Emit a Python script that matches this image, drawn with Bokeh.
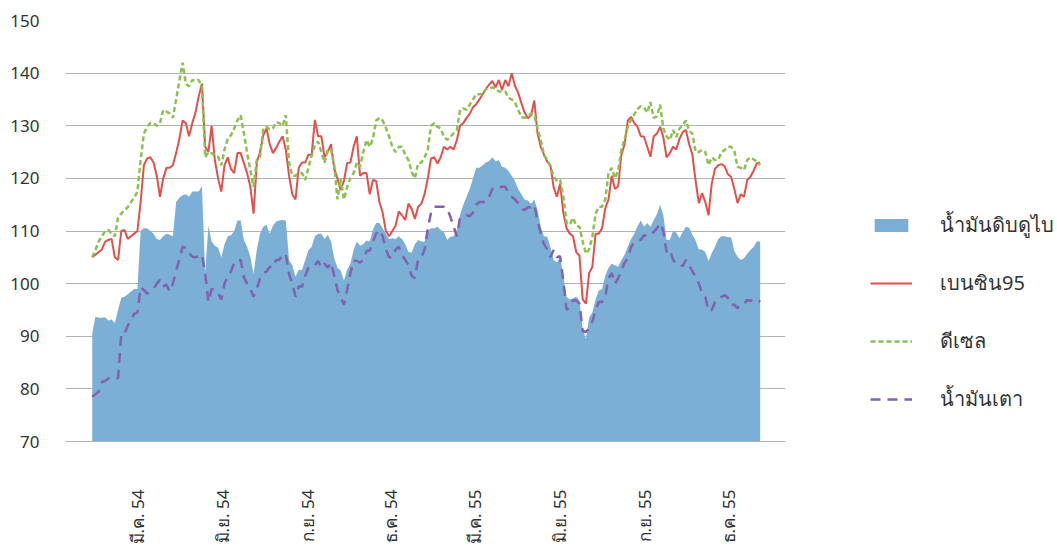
import math
import pandas as pd
from bokeh.plotting import figure
from bokeh.layouts import row
from bokeh.models import Range1d, FixedTicker, Legend, LegendItem
from bokeh.embed import file_html
from bokeh.resources import INLINE

# ---------------- data (twice-weekly readings, Jan 2011 - Dec 2012) ----------------
start_date = "2011-01-11"
step = "84h"   # 3.5 days between readings

dubai = [90.5, 93.7, 93.5, 93.5, 93.6, 93.0, 93.2, 92.5, 95.0, 97.3, 97.5, 98.0, 98.5, 99.0, 99.0, 110.0,
         110.5, 110.5, 110.0, 109.5, 108.5, 108.3, 109.0, 109.5, 109.3, 109.0, 115.5, 116.3, 116.8, 117.0, 116.5, 117.5,
         117.5, 117.5, 118.5, 102.0, 111.0, 108.0, 107.2, 106.8, 105.0, 107.5, 109.0, 109.2, 110.0, 112.0, 112.0, 108.3,
         107.0, 105.1, 101.9, 106.4, 109.5, 110.8, 111.2, 109.5, 111.0, 111.8, 112.0, 112.1, 112.0, 104.5, 103.5, 101.3,
         102.6, 102.6, 104.5, 106.3,
         107.0, 109.0, 109.5, 109.5, 108.5, 109.3, 108.0, 104.8, 103.0, 102.5, 100.6, 102.6, 103.8, 106.4, 108.0, 107.2,
         107.5, 108.2, 108.0, 110.3, 111.5, 111.5, 110.5, 109.5, 108.5, 108.6, 108.5, 109.0, 108.5, 107.5, 106.0, 105.9,
         107.5, 108.3, 108.0, 108.0, 110.0, 110.5,
         110.5, 110.8, 110.2, 109.8, 108.3, 108.9, 109.0, 110.2, 113.0, 115.0, 116.5, 118.0, 120.0, 122.0, 122.0, 122.5,
         123.0, 123.3, 124.0, 123.2, 123.5, 122.2, 122.0, 121.4, 120.5, 119.5, 118.0, 117.0, 116.0, 115.8, 115.2, 116.0,
         114.0, 110.8, 109.0, 108.9,
         107.0, 104.5, 104.0, 105.1, 101.5, 97.5, 97.0, 97.2, 97.5, 96.8, 91.5, 89.5, 93.5, 94.5, 97.0, 98.7,
         99.0, 101.5, 103.0, 103.8, 103.5, 103.2, 104.5, 105.5, 107.0, 108.5, 109.5, 110.9, 112.0, 110.8, 111.5, 110.8,
         112.0, 113.2, 115.0, 113.0, 108.3, 108.3,
         110.0, 109.7, 108.6, 109.8, 110.8, 110.6, 109.3, 108.2, 106.5, 106.5, 106.0, 104.3, 105.8, 107.0, 108.5, 109.0,
         109.0, 108.8, 108.8, 106.2, 105.1, 104.5, 104.8, 105.7, 106.4, 107.0, 108.0, 108.0]

benzin95 = [105.0, 105.5, 106.0, 106.5, 108.0, 108.3, 108.5, 105.0, 104.5, 110.0, 110.2, 108.5, 109.0, 109.5, 110.0, 115.5,
            122.5, 123.8, 124.0, 123.0, 120.5, 116.5, 120.0, 122.0, 122.0, 122.5, 124.8, 127.5, 131.0, 130.5, 128.0, 130.5,
            132.5, 135.6, 138.0, 126.0, 125.0, 130.0, 123.5, 120.0, 117.5, 122.5, 124.0, 121.8, 121.0, 124.8, 124.8, 122.9,
            121.0, 118.4, 113.3, 123.0, 125.0, 128.2, 129.5, 126.5, 124.8, 125.8, 127.0, 128.0, 125.4, 120.5, 117.0, 116.0,
            122.0, 123.0, 123.0, 124.5,
            124.5, 131.1, 128.0, 128.0, 124.0, 125.0, 126.5, 121.8, 120.0, 117.8, 119.5, 122.9, 123.0, 126.0, 128.0, 120.5,
            121.0, 121.0, 117.0, 119.7, 119.5, 115.5, 113.5, 110.0, 109.0, 110.0, 111.0, 113.7, 113.0, 112.1, 115.2, 114.2,
            112.3, 114.6, 115.2, 117.0, 120.0, 123.8,
            124.0, 122.8, 124.0, 126.0, 125.5, 126.0, 125.5, 127.3, 130.0, 130.5, 131.5, 132.3, 133.5, 134.1, 135.0, 136.0,
            137.0, 137.8, 138.5, 137.3, 138.7, 136.8, 138.7, 137.5, 140.0, 137.6, 136.3, 134.3, 132.5, 131.4, 132.0, 134.8,
            128.6, 126.0, 124.5, 123.2,
            122.5, 118.3, 116.5, 119.0, 113.5, 110.5, 109.5, 109.0, 106.0, 105.3, 97.0, 96.2, 102.0, 103.2, 109.5, 109.5,
            110.5, 114.3, 116.0, 120.5, 118.0, 118.5, 124.5, 126.5, 131.0, 131.7, 130.5, 129.8, 128.0, 127.9, 126.0, 124.1,
            128.0, 128.5, 129.8, 127.8, 124.0, 124.8,
            126.0, 125.5, 127.5, 128.8, 129.2, 126.5, 124.5, 119.5, 115.3, 117.2, 115.5, 113.0, 119.0, 121.8, 122.5, 122.7,
            122.3, 120.8, 120.3, 118.0, 115.3, 117.0, 116.5, 119.7, 120.3, 121.5, 122.9, 123.0]

diesel = [105.0, 106.4, 108.0, 109.0, 110.0, 110.2, 109.5, 109.0, 112.5, 113.3, 114.0, 114.5, 115.5, 116.3, 117.5, 123.5,
          128.5, 129.8, 130.5, 130.5, 130.0, 130.5, 133.0, 132.7, 132.3, 131.5, 135.0, 138.5, 142.0, 138.0, 137.5, 138.7,
          138.5, 138.7, 137.5, 124.0, 125.0, 124.8, 124.3, 124.1, 122.5, 125.5, 127.5, 128.2, 129.5, 131.0, 132.0, 128.6,
          124.8, 121.6, 118.4, 123.5, 124.0, 129.5, 129.8, 129.3, 129.5, 130.7, 130.5, 130.0, 132.0, 123.0, 120.5, 120.5,
          121.0, 121.0, 119.7, 122.0,
          124.3, 126.3, 127.0, 125.0, 123.0, 125.5, 125.5, 122.5, 116.0, 120.0, 116.0, 118.4, 120.0, 121.0, 123.0, 122.2,
          125.0, 127.3, 126.0, 127.5, 131.0, 131.5, 131.0, 129.6, 128.0, 126.0, 125.0, 126.0, 126.0, 124.5, 123.5, 121.2,
          120.0, 122.9, 123.0, 124.0, 125.5, 130.0,
          130.5, 129.8, 129.5, 127.9, 127.3, 127.9, 128.6, 129.2, 133.0, 133.3, 133.0, 134.0, 135.0, 136.0, 136.0, 136.0,
          137.0, 137.0, 137.3, 137.1, 136.5, 136.5, 136.5, 135.3, 135.0, 134.5, 133.0, 131.6, 131.5, 131.8, 132.3, 132.0,
          129.5, 127.3, 124.5, 123.5,
          122.2, 120.4, 119.5, 119.7, 116.5, 111.6, 111.2, 112.5, 111.0, 110.8, 108.0, 105.7, 106.5, 108.9, 113.3, 114.6,
          114.6, 116.0, 121.0, 122.0, 120.0, 121.5, 125.5, 127.5, 129.8, 131.2, 132.2, 133.2, 133.7, 133.5, 132.5, 134.5,
          131.5, 131.8, 134.0, 129.5, 128.0, 127.3,
          129.2, 127.8, 129.5, 130.0, 131.0, 129.0, 128.5, 125.0, 125.0, 125.4, 125.0, 122.5, 124.0, 123.5, 123.5, 125.0,
          125.4, 126.0, 126.0, 125.2, 122.2, 122.0, 121.6, 123.5, 124.0, 123.6, 123.2, 122.5]

kerosene = [78.5, 79.0, 79.5, 81.3, 81.5, 82.0, 82.0, 82.0, 82.0, 90.5, 90.5, 92.0, 93.0, 94.3, 94.5, 99.3,
            98.8, 98.1, 98.5, 99.0, 100.0, 100.7, 99.5, 99.8, 98.5, 100.0, 102.5, 104.5, 107.0, 106.8, 105.8, 105.1,
            105.0, 105.3, 105.5, 102.0, 96.5, 99.0, 98.8, 98.2, 97.0, 100.0, 101.5, 102.3, 104.0, 104.5, 104.5, 101.2,
            100.0, 99.0, 97.5, 99.0, 101.0, 102.0, 102.3, 103.2, 103.0, 104.5, 104.5, 105.7, 105.5, 101.8, 100.0, 97.5,
            99.5, 99.4, 101.5, 103.0,
            103.0, 103.5, 104.3, 103.0, 103.8, 103.0, 104.0, 101.5, 98.8, 97.4, 96.0, 98.8, 102.0, 104.4, 104.3, 104.0,
            104.5, 106.2, 106.3, 108.0, 109.5, 110.2, 109.0, 106.5, 105.0, 105.0, 106.5, 107.0, 105.5, 104.5, 103.5, 101.5,
            101.0, 104.7, 105.0, 106.5, 110.5, 113.5,
            114.6, 114.6, 114.6, 114.6, 114.3, 112.7, 110.8, 109.0, 112.5, 113.0, 113.0, 112.8, 113.5, 115.0, 115.5, 115.5,
            115.5, 116.5, 118.0, 118.4, 118.2, 118.4, 118.4, 117.3, 116.5, 116.0, 115.3, 114.2, 114.0, 114.5, 114.5, 115.0,
            112.0, 109.5, 107.5, 106.5,
            105.0, 106.4, 105.0, 105.2, 100.5, 95.0, 95.8, 96.8, 96.8, 96.2, 91.0, 90.8, 91.5, 92.8, 95.0, 96.5,
            96.5, 97.5, 101.0, 102.0, 100.0, 101.0, 102.5, 104.0, 104.8, 107.0, 107.8, 108.3, 108.3, 109.2, 109.0, 109.2,
            109.8, 110.5, 111.5, 110.0, 106.0, 106.5,
            104.5, 103.8, 103.8, 103.3, 104.5, 103.5, 102.3, 101.3, 100.0, 98.2, 97.5, 94.8, 95.0, 96.5, 97.0, 97.5,
            97.8, 97.3, 96.0, 96.0, 95.3, 96.2, 96.2, 96.9, 96.7, 97.1, 97.0, 96.5]

tick_dates = ["2011-03-01", "2011-06-01", "2011-09-01", "2011-12-01",
              "2012-03-01", "2012-06-01", "2012-09-01", "2012-12-01"]
tick_labels = ["มี.ค. 54", "มิ.ย. 54", "ก.ย. 54", "ธ.ค. 54",
               "มี.ค. 55", "มิ.ย. 55", "ก.ย. 55", "ธ.ค. 55"]
series_names = ["น้ำมันดิบดูไบ", "เบนซิน95", "ดีเซล", "น้ำมันเตา"]

# ---------------- x as days since first tick ----------------
origin = pd.Timestamp(tick_dates[0])
dates = pd.date_range(start_date, periods=len(dubai), freq=step)
x = [(d - origin) / pd.Timedelta(days=1) for d in dates]
tick_pos = [(pd.Timestamp(t) - origin).days for t in tick_dates]

FONT = "Noto Sans"
TXT = "#333333"
C_AREA, C_B, C_D, C_K = "#7bafd6", "#e0514c", "#8cc152", "#8062ae"


def draw_series(fig):
    a = fig.varea(x=x, y1=70, y2=dubai, fill_color=C_AREA)
    b = fig.line(x, benzin95, line_color=C_B, line_width=2)
    d = fig.line(x, diesel, line_color=C_D, line_width=2.5, line_dash="5 3")
    k = fig.line(x, kerosene, line_color=C_K, line_width=2.5, line_dash="10 7")
    return a, b, d, k


# ---------------- main chart ----------------
p = figure(width=800, height=548, output_backend="svg", toolbar_location=None,
           x_range=Range1d(-78, 703), y_range=Range1d(70, 150),
           min_border_left=65, min_border_right=15, min_border_top=20, min_border_bottom=107)
p.outline_line_color = None
draw_series(p)

p.xgrid.visible = False
p.ygrid.grid_line_color = "#b3b3b3"
p.ygrid.grid_line_width = 1
p.yaxis.ticker = FixedTicker(ticks=list(range(70, 151, 10)))
p.xaxis.ticker = FixedTicker(ticks=tick_pos)
p.xaxis.major_label_overrides = {t: l for t, l in zip(tick_pos, tick_labels)}
p.xaxis.major_label_orientation = math.pi / 2
p.xaxis.major_label_standoff = 42
p.xaxis.axis_line_color = "#b3b3b3"
for ax in (p.xaxis, p.yaxis):
    ax.major_tick_line_color = None
    ax.minor_tick_line_color = None
    ax.major_label_text_font = FONT
    ax.major_label_text_font_size = "17px"
    ax.major_label_text_color = TXT
p.yaxis.axis_line_color = None
p.yaxis.major_label_standoff = 20

# ---------------- legend panel (same series, ranges placed off the data) ----------------
q = figure(width=257, height=548, output_backend="svg", toolbar_location=None,
           x_range=Range1d(-2000, -1999), y_range=Range1d(0, 1),
           min_border_left=0, min_border_right=0, min_border_top=0, min_border_bottom=0)
q.axis.visible = False
q.grid.visible = False
q.outline_line_color = None
la, lb, ld, lk = draw_series(q)

legend = Legend(items=[LegendItem(label=series_names[0], renderers=[la]),
                       LegendItem(label=series_names[1], renderers=[lb]),
                       LegendItem(label=series_names[2], renderers=[ld]),
                       LegendItem(label=series_names[3], renderers=[lk])],
                location=(70, 26), orientation="vertical",
                glyph_width=42, glyph_height=16, label_standoff=28,
                spacing=26, padding=0, margin=0,
                label_text_font=FONT, label_text_font_size="20px",
                label_text_color=TXT, border_line_color=None,
                background_fill_alpha=0)
q.add_layout(legend, "center")

layout = row(p, q, spacing=0)
open("out.html", "w").write(file_html(layout, INLINE))
